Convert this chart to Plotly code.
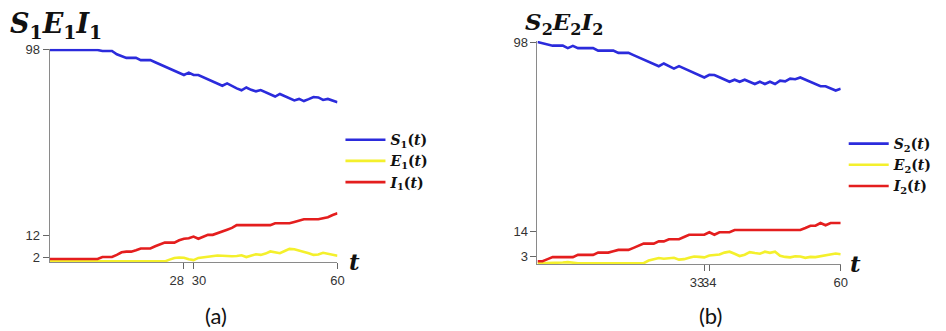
import plotly.graph_objects as go

W, H = 946, 331

t = list(range(61))

S1 = [98]*11 + [97.5, 97.5, 97.5, 96.0, 95.0, 94.3, 94.3, 94.3, 93.3, 93.3, 93.3,
      92.3, 91.3, 90.3, 89.3, 88.3, 87.3, 86.4, 87.5, 86.4, 86.4,
      85.4, 84.4, 83.4, 82.4, 81.4, 82.5, 81.3, 80.2, 79.3, 80.6, 79.5, 78.8, 79.4,
      78.4, 77.4, 76.4, 77.6, 76.6, 75.6, 74.6, 75.3, 74.3, 75.2, 76.2, 76.0, 74.8, 75.3, 74.6, 73.8]
E1 = [0]*25 + [0.8, 1.6, 1.8, 1.7, 1.0, 0.6, 1.6, 1.9, 2.2, 2.5, 2.7, 2.6, 2.4, 2.4, 2.5, 2.8,
               2.0, 2.8, 3.3, 3.0, 3.6, 4.6, 4.2, 3.8, 4.8, 5.8, 5.6, 5.0, 4.6, 3.8, 3.0, 3.2,
               4.0, 3.6, 3.0, 2.6]
I1 = [1.1]*11 + [2.0, 2.0, 2.0, 3.0, 4.2, 4.5, 4.5, 5.2, 6.0, 6.0, 6.0, 7.0, 8.0, 8.7, 8.7, 8.7,
                 9.8, 10.5, 10.7, 11.5, 10.5, 11.5, 12.3, 12.3, 13.0, 13.8, 14.7, 15.5] + \
     [16.8]*8 + [17.7]*4 + [18.3, 18.9, 19.5, 19.5, 19.5, 19.5, 20.0, 20.5, 21.5, 22.3]

S2 = [98, 97.5, 96.9, 96.4, 96.4, 96.4, 95.3, 96.3, 95.3, 95.3, 95.3, 95.3, 94.2, 94.2, 94.2, 94.2,
      93.2, 93.2, 93.2, 92.2, 91.2, 90.2, 89.2, 88.2, 87.3, 88.5, 87.4, 86.2, 87.3, 86.3, 85.3,
      84.3, 83.3, 82.3, 83.5, 83.4, 82.4, 81.4, 80.4, 81.3, 80.4, 81.3, 80.3, 79.4, 80.4, 79.4,
      80.4, 79.4, 80.9, 80.6, 81.8, 81.5, 82.3, 81.3, 80.3, 79.3, 78.4, 78.4, 77.5, 76.5, 77.3]
E2 = [0, 0, 0, 0, 0, 0.3, 0.5, 0.2] + [0]*14 + [1.2, 1.7, 2.3, 2.0, 2.1, 2.4, 1.6, 1.8, 2.4, 3.0,
      2.8, 2.6, 3.4, 3.5, 3.9, 4.7, 5.1, 4.2, 3.2, 3.8, 4.9, 4.5, 4.2, 5.1, 4.6, 5.1, 3.3, 2.8,
      2.6, 3.1, 3.0, 2.4, 2.8, 2.7, 3.1, 3.5, 3.9, 4.3, 4.0]
I2 = [0.9, 0.9, 1.8] + [2.7]*5 + [3.7]*4 + [4.7]*3 + [5.3, 5.9, 5.9, 5.9, 6.8, 7.7, 8.7, 8.7, 8.7,
      9.7, 9.7, 10.6, 10.6, 10.6, 11.6, 12.6, 12.6, 12.6, 12.6, 13.7, 12.6, 13.7, 13.7, 13.7] + \
     [14.7]*14 + [15.6, 16.6, 16.6, 17.8, 16.8, 17.8, 17.8, 17.8]

x_ticks_a = [28, 30, 60]
x_labels_a = ["28", "30", "60"]
y_ticks_a = [2, 12, 98]
x_ticks_b = [33, 34, 60]
x_labels_b = ["33", "34", "60"]
y_ticks_b = [3, 14, 98]

BLUE = "#2b2bdc"
YELLOW = "#f4f02c"
RED = "#e41e1e"

NB = "\u00a0"
# nudge crowded tick labels apart (as in the reference)
x_text_a = [x_labels_a[0] + NB * 4, NB * 3 + x_labels_a[1], x_labels_a[2]]
x_text_b = [x_labels_b[0] + NB * 4, x_labels_b[1], x_labels_b[2]]

def lbl(letter, k):
    return f"<b><i>{letter}</i><sub>{k}</sub>(<i>t</i>)</b>"

fig = go.Figure()
for ys, name, col in [(S1, lbl("S", 1), BLUE), (E1, lbl("E", 1), YELLOW), (I1, lbl("I", 1), RED)]:
    fig.add_trace(go.Scatter(x=t, y=ys, mode="lines", name=name, line=dict(color=col, width=2.6),
                             xaxis="x", yaxis="y", legend="legend"))
for ys, name, col in [(S2, lbl("S", 2), BLUE), (E2, lbl("E", 2), YELLOW), (I2, lbl("I", 2), RED)]:
    fig.add_trace(go.Scatter(x=t, y=ys, mode="lines", name=name, line=dict(color=col, width=2.6),
                             xaxis="x2", yaxis="y2", legend="legend2"))

def dom_x(a, b):
    return [a / W, b / W]

def dom_y(top_px, bot_px):
    return [(H - bot_px) / H, (H - top_px) / H]

ylo, yhi = -0.3, 98.5
la_bot = 261.7 - ylo * 2.211
la_top = 261.7 - yhi * 2.211
rb_bot = 263.6 - ylo * 2.313
rb_top = 263.6 - yhi * 2.313

axis_common = dict(showgrid=False, zeroline=False, showline=True, linecolor="#8a8a8a", linewidth=1,
                   ticks="outside", ticklen=6, tickcolor="#666", tickwidth=1, tickangle=0,
                   tickfont=dict(family="Liberation Sans, Arial", size=13, color="#333"))

fig.update_layout(
    width=W, height=H, margin=dict(l=0, r=0, t=0, b=0),
    paper_bgcolor="white", plot_bgcolor="white",
    xaxis=dict(domain=dom_x(50, 340), range=[0, 60], tickvals=x_ticks_a, ticktext=x_text_a,
               anchor="y", **axis_common),
    yaxis=dict(domain=dom_y(la_top, la_bot), range=[ylo, yhi], tickvals=y_ticks_a, anchor="x", **axis_common),
    xaxis2=dict(domain=dom_x(541.5, 847), range=[0, 60], tickvals=x_ticks_b, ticktext=x_text_b,
                anchor="y2", **axis_common),
    yaxis2=dict(domain=dom_y(rb_top, rb_bot), range=[ylo, yhi], tickvals=y_ticks_b, anchor="x2", **axis_common),
    legend=dict(x=343 / W, y=1 - 121 / H, xanchor="left", yanchor="top",
                font=dict(family="DejaVu Serif", size=14, color="#111"),
                bgcolor="rgba(0,0,0,0)", tracegroupgap=0, itemwidth=40),
    legend2=dict(x=850 / W, y=1 - 125 / H, xanchor="left", yanchor="top",
                 font=dict(family="DejaVu Serif", size=14, color="#111"),
                 bgcolor="rgba(0,0,0,0)", tracegroupgap=0, itemwidth=40),
    showlegend=True,
)

ann = [
    dict(text="<b><i>S</i><sub>1</sub><i>E</i><sub>1</sub><i>I</i><sub>1</sub></b>", x=8 / W, y=1 - 0 / H,
         font=dict(family="DejaVu Serif", size=27, color="#111"), xanchor="left", yanchor="top"),
    dict(text="<b><i>S</i><sub>2</sub><i>E</i><sub>2</sub><i>I</i><sub>2</sub></b>", x=527 / W, y=1 - 0 / H,
         font=dict(family="DejaVu Serif", size=23, color="#111"), xanchor="left", yanchor="top"),
    dict(text="<b><i>t</i></b>", x=357 / W, y=1 - 262 / H, xanchor="center", yanchor="middle",
         font=dict(family="DejaVu Serif", size=23, color="#111")),
    dict(text="<b><i>t</i></b>", x=862 / W, y=1 - 264 / H, xanchor="center", yanchor="middle",
         font=dict(family="DejaVu Serif", size=23, color="#111")),
    dict(text="(a)", x=218 / W, y=1 - 317 / H, xanchor="center", yanchor="middle",
         font=dict(family="Lato", size=22, color="#111")),
    dict(text="(b)", x=716 / W, y=1 - 317 / H, xanchor="center", yanchor="middle",
         font=dict(family="Lato", size=22, color="#111")),
]
for a in ann:
    a.update(xref="paper", yref="paper", showarrow=False)
fig.update_layout(annotations=ann)

fig.write_html("out.html", config={"displayModeBar": False},
               post_script="document.body.style.margin='0';document.body.style.overflow='hidden';")
